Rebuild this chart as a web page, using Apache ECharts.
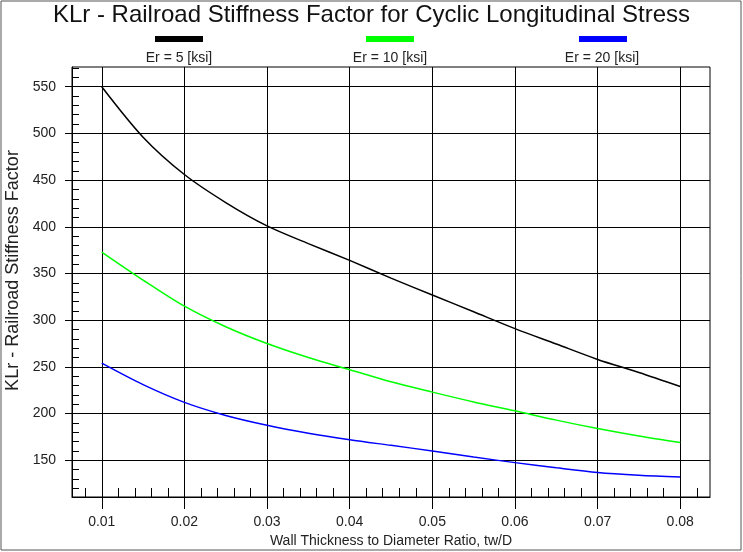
<!DOCTYPE html>
<html>
<head>
<meta charset="utf-8">
<script src="https://cdn.jsdelivr.net/npm/echarts@6/dist/echarts.min.js"></script>
<style>
html,body{margin:0;padding:0;background:#fff;}
#chart{width:743px;height:552px;}
</style>
</head>
<body>
<div id="chart"></div>
<script>
// ---- data ----
const chartTitle = 'KLr - Railroad Stiffness Factor for Cyclic Longitudinal Stress';
const xAxisTitle = 'Wall Thickness to Diameter Ratio, tw/D';
const yAxisTitle = 'KLr - Railroad Stiffness Factor';
const seriesNames = ['Er = 5 [ksi]', 'Er = 10 [ksi]', 'Er = 20 [ksi]'];
const seriesColors = ['#000000', '#00ff00', '#0000ff'];
const ratio = [0.010, 0.015, 0.020, 0.025, 0.030, 0.035, 0.040, 0.045, 0.050, 0.055, 0.060, 0.065, 0.070, 0.075, 0.080];
const klrEr5  = [550, 496, 456, 426, 401, 382, 364, 345, 327, 309, 291, 274.5, 258, 244, 229];
const klrEr10 = [373, 343, 315, 293, 275, 260, 247, 234, 223, 212.5, 203, 193, 184, 176, 169];
const klrEr20 = [254, 231, 212, 198, 187.5, 179, 172, 166, 160, 153.5, 147.5, 142, 137, 134, 132];
const xTickValues = [0.01, 0.02, 0.03, 0.04, 0.05, 0.06, 0.07, 0.08];
const yTickValues = [150, 200, 250, 300, 350, 400, 450, 500, 550];
const xRange = [0.0064, 0.0836];
const yRange = [110.7, 571.1];

// minor tick positions (every 0.002 on x, every 10 on y)
const xMinor = [];
for (let k = 4; k <= 41; k++) { xMinor.push(+(k * 0.002).toFixed(4)); }
const yMinor = [];
for (let v = 120; v <= 570; v += 10) { yMinor.push(v); }

const FONT = 'Liberation Sans, Arial, sans-serif';
const TXT = '#222';
const seriesData = [klrEr5, klrEr10, klrEr20];

const chart = echarts.init(document.getElementById('chart'), null, {renderer: 'canvas'});

const legendLefts = [155, 366, 579];
const legendCenters = [179, 390, 602];

const option = {
  backgroundColor: '#ffffff',
  animation: false,
  textStyle: {fontFamily: FONT},
  title: [
    {
      text: chartTitle, left: 'center', top: 3, padding: 0,
      textStyle: {fontSize: 24, fontWeight: 'normal', color: '#111', fontFamily: FONT}
    }
  ].concat(seriesNames.map((n, i) => ({
    text: n, left: legendCenters[i], textAlign: 'center', top: 51, padding: 0,
    textStyle: {fontSize: 14, fontWeight: 'normal', color: TXT, fontFamily: FONT}
  }))),
  legend: seriesNames.map((n, i) => ({
    data: [n], left: legendLefts[i], top: 36, padding: 0, itemGap: 0,
    itemWidth: 48, itemHeight: 6, icon: 'rect', selectedMode: false,
    formatter: () => '', textStyle: {fontSize: 6, lineHeight: 6}
  })),
  grid: {
    left: 72, right: 33, top: 67, bottom: 55,
    containLabel: false, outerBoundsMode: 'none',
    show: true, borderColor: '#000', borderWidth: 1, backgroundColor: '#fff'
  },
  xAxis: [
    {
      type: 'value', min: xRange[0], max: xRange[1],
      minInterval: 0.01, maxInterval: 0.01, splitNumber: 8,
      name: xAxisTitle, nameLocation: 'middle', nameGap: 37,
      nameTextStyle: {fontSize: 14, color: TXT, fontFamily: FONT},
      axisLine: {show: true, onZero: false, lineStyle: {color: '#000', width: 1}},
      axisTick: {show: true, inside: false, length: 12, customValues: xTickValues, lineStyle: {color: '#000', width: 1}},
      axisLabel: {show: true, margin: 18, fontSize: 14, color: TXT, fontFamily: FONT,
        customValues: xTickValues, formatter: v => v.toFixed(2)},
      splitLine: {show: true, lineStyle: {color: '#000', width: 1}}
    },
    {
      type: 'value', min: xRange[0], max: xRange[1], position: 'bottom',
      axisLine: {show: false, onZero: false},
      axisTick: {show: true, inside: true, length: 9, customValues: xMinor, lineStyle: {color: '#000', width: 1}},
      axisLabel: {show: false},
      splitLine: {show: false}
    }
  ],
  yAxis: [
    {
      type: 'value', min: yRange[0], max: yRange[1],
      minInterval: 50, maxInterval: 50, splitNumber: 9,
      name: yAxisTitle, nameLocation: 'middle', nameGap: 46, nameRotate: 90,
      nameTextStyle: {fontSize: 18, color: TXT, fontFamily: FONT, padding: [0, 0, 0, 23]},
      axisLine: {show: true, onZero: false, lineStyle: {color: '#000', width: 1}},
      axisTick: {show: true, inside: false, length: 7, customValues: yTickValues, lineStyle: {color: '#000', width: 1}},
      axisLabel: {show: true, margin: 16, fontSize: 14, color: TXT, fontFamily: FONT,
        customValues: yTickValues, formatter: v => String(Math.round(v))},
      splitLine: {show: true, lineStyle: {color: '#000', width: 1}}
    },
    {
      type: 'value', min: yRange[0], max: yRange[1], position: 'left',
      axisLine: {show: false, onZero: false},
      axisTick: {show: true, inside: true, length: 7, customValues: yMinor, lineStyle: {color: '#000', width: 1}},
      axisLabel: {show: false},
      splitLine: {show: false}
    }
  ],
  graphic: [
    {type: 'rect', shape: {x: 1, y: 1, width: 740, height: 549}, style: {fill: 'none', stroke: '#555', lineWidth: 1}, silent: true, z: 100}
  ],
  series: seriesNames.map((n, i) => ({
    name: n, type: 'line', xAxisIndex: 0, yAxisIndex: 0,
    data: ratio.map((x, j) => [x, seriesData[i][j]]),
    color: seriesColors[i],
    showSymbol: false, symbol: 'none',
    smooth: 0.3,
    lineStyle: {color: seriesColors[i], width: 1.5},
    z: 5
  }))
};
chart.setOption(option);
</script>
</body>
</html>
